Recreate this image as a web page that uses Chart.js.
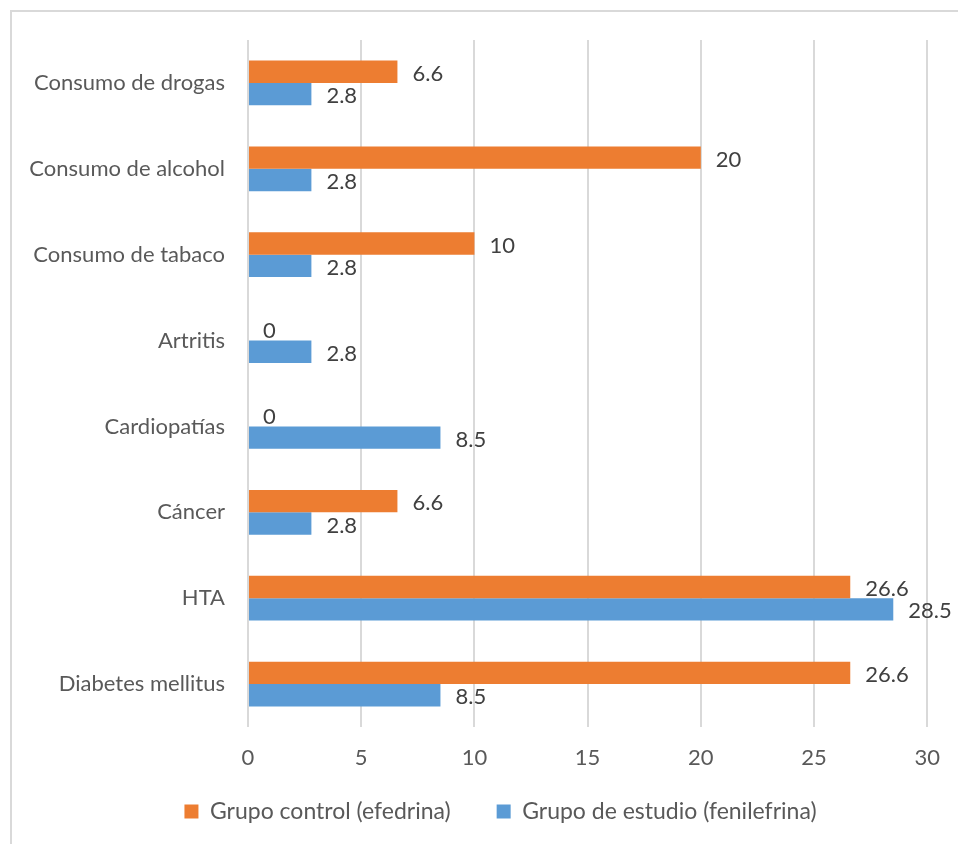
<!DOCTYPE html>
<html>
<head>
<meta charset="utf-8">
<script src="https://cdn.jsdelivr.net/npm/chart.js@4.4.1/dist/chart.umd.min.js"></script>
<style>
  html, body { margin:0; padding:0; width:958px; height:844px; overflow:hidden; background:#fff; }
  #frame { position:absolute; left:10px; top:10px; width:1000px; height:900px; border:2px solid #d9d9d9; box-sizing:border-box; }
  #chart_box { position:absolute; left:0; top:0; width:958px; height:844px; }
</style>
</head>
<body>
<div id="frame"></div>
<div id="chart_box"><canvas id="main_chart" width="958" height="844"></canvas></div>
<script>
// categories, top to bottom
var categories = ["Consumo de drogas", "Consumo de alcohol", "Consumo de tabaco", "Artritis",
                  "Cardiopatías", "Cáncer", "HTA", "Diabetes mellitus"];
var control_values = [6.6, 20, 10, 0, 0, 6.6, 26.6, 26.6];   // Grupo control (efedrina)
var estudio_values = [2.8, 2.8, 2.8, 2.8, 8.5, 2.8, 28.5, 8.5]; // Grupo de estudio (fenilefrina)
var series_names = ["Grupo control (efedrina)", "Grupo de estudio (fenilefrina)"];
var x_ticks = [0, 5, 10, 15, 20, 25, 30];

var FONT = "Lato, 'DejaVu Sans', sans-serif";
var TEXT_COLOR = "#595959";

// draws the value next to the end of each bar
var barValueLabels = {
  id: "barValueLabels",
  afterDatasetsDraw: function(chart){
    var ctx = chart.ctx;
    ctx.save();
    ctx.font = "22px " + FONT;
    ctx.fillStyle = "#404040";
    ctx.textAlign = "left";
    ctx.textBaseline = "middle";
    chart.data.datasets.forEach(function(ds, i){
      var meta = chart.getDatasetMeta(i);
      meta.data.forEach(function(bar, j){
        ctx.fillText(String(ds.data[j]), bar.x + 15, bar.y + 2);
      });
    });
    ctx.restore();
  }
};

// legend sits a bit right of the canvas centre and closer to the axis in the original
var legendNudge = {
  id: "legendNudge",
  afterLayout: function(chart){
    var lg = chart.legend;
    if(!lg) return;
    lg.left += 35; lg.right += 35;
    lg.top -= 18; lg.bottom -= 18;
  }
};

var ctx = document.getElementById("main_chart").getContext("2d");
var chart = new Chart(ctx, {
  type: "bar",
  data: {
    labels: categories,
    datasets: [
      { label: series_names[0], data: control_values, backgroundColor: "#ED7D31", borderWidth: 0 },
      { label: series_names[1], data: estudio_values, backgroundColor: "#5B9BD5", borderWidth: 0 }
    ]
  },
  options: {
    indexAxis: "y",
    responsive: false,
    animation: false,
    layout: { padding: { left: 0, right: 27, top: 40, bottom: 0 } },
    datasets: { bar: { categoryPercentage: 0.52, barPercentage: 1.0 } },
    scales: {
      x: {
        min: 0, max: 30,
        afterBuildTicks: function(scale){ scale.ticks = x_ticks.map(function(v){ return {value: v}; }); },
        afterFit: function(scale){ scale.height = 45; },
        grid: { color: "#d9d9d9", lineWidth: 2, drawTicks: false },
        border: { display: false },
        ticks: { color: TEXT_COLOR, font: { family: FONT, size: 22 }, padding: 18, maxRotation: 0 }
      },
      y: {
        afterFit: function(scale){ scale.width = 248; },
        grid: { display: false, drawTicks: false },
        border: { display: false },
        ticks: { color: TEXT_COLOR, font: { family: FONT, size: 22 }, padding: 23 }
      }
    },
    plugins: {
      legend: {
        position: "bottom",
        maxHeight: 72,
        labels: { boxWidth: 14, boxHeight: 14, padding: 46, color: TEXT_COLOR, font: { family: FONT, size: 23 } }
      },
      tooltip: { enabled: false }
    }
  },
  plugins: [barValueLabels, legendNudge]
});
</script>
</body>
</html>
